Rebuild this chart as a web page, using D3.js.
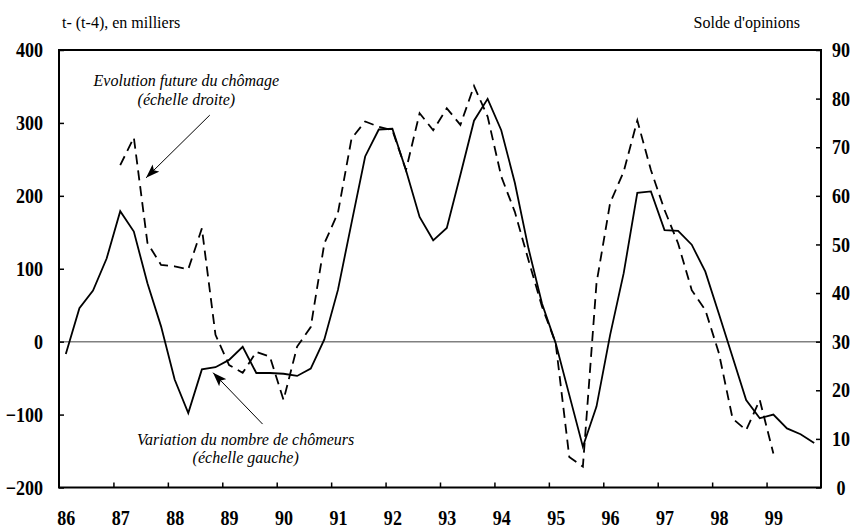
<!DOCTYPE html>
<html>
<head>
<meta charset="utf-8">
<script src="https://cdn.jsdelivr.net/npm/d3@7"></script>
<style>
  body { margin: 0; background: #fff; }
  svg { display: block; }
</style>
</head>
<body>
<div id="chart"></div>
<script>
// quarterly data, 1986Q1 .. 1999Q4
var startYear = 1986;
var yearLabels = ['86', '87', '88', '89', '90', '91', '92', '93', '94', '95', '96', '97', '98', '99'];
var leftTicks = [-200, -100, 0, 100, 200, 300, 400];
var rightTicks = [0, 10, 20, 30, 40, 50, 60, 70, 80, 90];

// variation du nombre de chomeurs, t-(t-4), en milliers (left scale)
var chomeurs = [
  -17, 46, 70, 114,
  179, 151, 80, 21,
  -52, -98, -38, -35,
  -25, -7, -43, -43,
  -44, -47, -37, 3,
  71, 163, 254, 291,
  292, 235, 171, 139,
  156, 229, 303, 333,
  290, 218, 128, 52,
  -2, -73, -144, -89,
  9, 94, 204, 206,
  153, 152, 133, 96,
  38, -21, -80, -105,
  -100, -119, -127, -139
];

// evolution future du chomage, solde d'opinions (right scale)
var opinions = [
  null, null, null, null,
  66.3, 72, 50.3, 45.8,
  45.5, 44.9, 53.3, 31.4,
  25.2, 23.6, 27.9, 26.9,
  18, 29, 33, 50.2,
  56.5, 71.8, 75.3, 74.2,
  73.5, 65.3, 77, 73.5,
  78, 74.6, 82.6, 76.3,
  64, 56.7, 46.8, 37.2,
  29.7, 6.3, 4.3, 42,
  58.5, 65, 75.5, 65.3,
  57.1, 50.2, 40.6, 36.5,
  27.6, 14.2, 11.8, 18,
  7, null, null, null
];

var serif = '"Liberation Serif", "Times New Roman", serif';

var width = 858,
  height = 528,
  margin = {top: 50, right: 37, bottom: 40.5, left: 59};

var x = d3.scaleLinear()
  .domain([startYear, startYear + yearLabels.length])
  .range([margin.left, width - margin.right]);

var yL = d3.scaleLinear()
  .domain([-200, 400])
  .range([height - margin.bottom, margin.top]);

var yR = d3.scaleLinear()
  .domain([0, 90])
  .range([height - margin.bottom, margin.top]);

function qx(i) { return x(startYear + (i + 0.5) / 4); }

var svg = d3.select('#chart')
  .append('svg')
  .attr('width', width)
  .attr('height', height)
  .style('font-family', serif);

// zero line
svg.append('line')
  .attr('x1', x.range()[0])
  .attr('x2', x.range()[1])
  .attr('y1', yL(0))
  .attr('y2', yL(0))
  .style('stroke', '#808080')
  .style('stroke-width', 1.5);

// axes
var yearTicks = d3.range(startYear + 1, startYear + yearLabels.length);

svg.append('g')
  .attr('transform', 'translate(0,' + yL(-200) + ')')
  .call(d3.axisBottom(x).tickValues(yearTicks).tickSize(-5).tickFormat(''));

var xLabels = svg.append('g')
  .attr('class', 'tick-label')
  .attr('transform', 'translate(0,' + yL(-200) + ')')
  .call(d3.axisBottom(x)
    .tickValues(yearLabels.map(function(d, i) { return startYear + i + 0.125; }))
    .tickSize(0)
    .tickPadding(23)
    .tickFormat(function(d, i) { return yearLabels[i]; }));

svg.append('g')
  .attr('class', 'tick-label')
  .attr('transform', 'translate(' + x.range()[0] + ',0)')
  .call(d3.axisLeft(yL).tickValues(leftTicks).tickSize(-5).tickPadding(16));

var rightAxis = svg.append('g')
  .attr('class', 'tick-label')
  .attr('transform', 'translate(' + x.range()[1] + ',0)')
  .call(d3.axisRight(yR).tickValues(rightTicks).tickSize(-5).tickPadding(20));

rightAxis.selectAll('text').attr('text-anchor', 'middle');

svg.selectAll('.domain').remove();
svg.selectAll('.tick line').style('stroke', '#000').style('stroke-width', 1.5);
xLabels.selectAll('.tick line').remove();

// tall, narrow bold digits like the original
var sx = 0.88;
svg.selectAll('.tick-label').attr('font-family', null).attr('font-size', null);
svg.selectAll('.tick-label text')
  .style('font-family', serif)
  .style('font-weight', 'bold')
  .style('font-size', '20.5px')
  .attr('x', function() { return (+d3.select(this).attr('x') || 0) / sx; })
  .attr('transform', 'scale(' + sx + ',1)');

// frame
svg.append('rect')
  .attr('x', x.range()[0])
  .attr('y', yL(400))
  .attr('width', x.range()[1] - x.range()[0])
  .attr('height', yL(-200) - yL(400))
  .style('fill', 'none')
  .style('stroke', '#000')
  .style('stroke-width', 2);

// lines
var lineL = d3.line()
  .x(function(d, i) { return qx(i); })
  .y(function(d) { return yL(d); });

var lineR = d3.line()
  .defined(function(d) { return d != null; })
  .x(function(d, i) { return qx(i); })
  .y(function(d) { return yR(d); });

svg.append('path')
  .datum(opinions)
  .attr('d', lineR)
  .style('fill', 'none')
  .style('stroke', '#000')
  .style('stroke-width', 1.8)
  .style('stroke-dasharray', '10,6');

svg.append('path')
  .datum(chomeurs)
  .attr('d', lineL)
  .style('fill', 'none')
  .style('stroke', '#000')
  .style('stroke-width', 1.8);

// axis titles
svg.append('text')
  .attr('x', 62)
  .attr('y', 28)
  .style('font-family', serif)
  .style('font-size', '16px')
  .text('t- (t-4), en milliers');

svg.append('text')
  .attr('x', 800)
  .attr('y', 28)
  .attr('text-anchor', 'end')
  .style('font-family', serif)
  .style('font-size', '16px')
  .text("Solde d'opinions");

// annotations
svg.append('defs').append('marker')
  .attr('id', 'arrow')
  .attr('viewBox', '0 0 14 10')
  .attr('refX', 14)
  .attr('refY', 5)
  .attr('markerWidth', 14)
  .attr('markerHeight', 10)
  .attr('markerUnits', 'userSpaceOnUse')
  .attr('orient', 'auto')
  .append('path')
  .attr('d', 'M0,0 L14,5 L0,10 L3,5 Z')
  .style('fill', '#000');

var notes = [
  {lines: ['Evolution future du chômage', '(échelle droite)'], cx: 1988.34, y: [82.5, 78.6], scale: yR,
   from: [1988.77, 76.6], to: [1987.6, 63.7]},
  {lines: ['Variation du nombre de chômeurs', '(échelle gauche)'], cx: 1989.43, y: [-141.7, -166.8], scale: yL,
   from: [1989.74, -113], to: [1988.83, -42.5]}
];

notes.forEach(function(n) {
  n.lines.forEach(function(t, k) {
    svg.append('text')
      .attr('x', x(n.cx))
      .attr('y', n.scale(n.y[k]))
      .attr('text-anchor', 'middle')
      .style('font-family', serif)
      .style('font-style', 'italic')
      .style('font-size', '16px')
      .text(t);
  });
  svg.append('line')
    .attr('x1', x(n.from[0]))
    .attr('y1', n.scale(n.from[1]))
    .attr('x2', x(n.to[0]))
    .attr('y2', n.scale(n.to[1]))
    .style('stroke', '#000')
    .style('stroke-width', 1)
    .attr('marker-end', 'url(#arrow)');
});
</script>
</body>
</html>
